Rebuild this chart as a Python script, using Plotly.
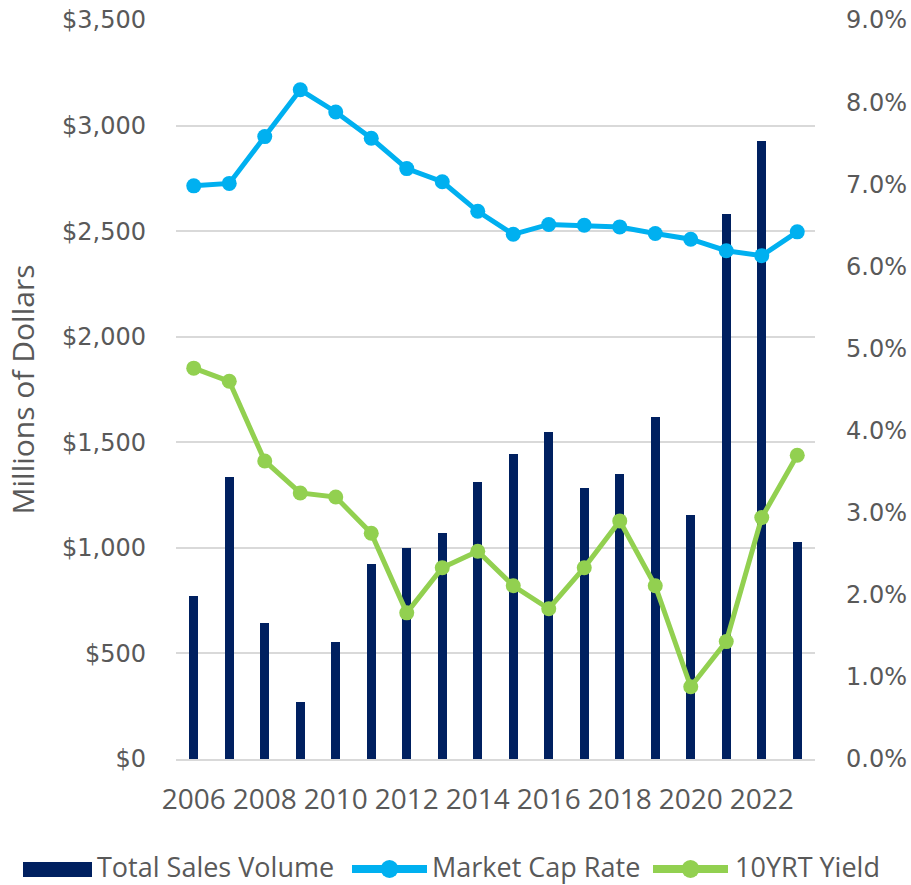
import plotly.graph_objects as go

years = list(range(2006, 2024))
sales_volume = [770, 1335, 645, 270, 556, 925, 1000, 1070, 1310, 1445, 1550, 1285, 1350, 1620, 1157, 2582, 2928, 1030]
cap_rate = [6.98, 7.01, 7.58, 8.15, 7.88, 7.56, 7.19, 7.03, 6.67, 6.39, 6.51, 6.50, 6.48, 6.40, 6.33, 6.19, 6.13, 6.42]
treasury_yield = [4.76, 4.60, 3.63, 3.24, 3.19, 2.75, 1.78, 2.33, 2.53, 2.11, 1.83, 2.33, 2.90, 2.11, 0.88, 1.43, 2.94, 3.70]
series_names = ["Total Sales Volume", "Market Cap Rate", "10YRT Yield"]

NAVY = "#002060"
BLUE = "#00B0F0"
GREEN = "#92D050"
GRAY = "#595959"
TICKFONT = dict(family="DejaVu Sans, Verdana, sans-serif", size=24, color=GRAY)
XFONT = dict(family="Open Sans, sans-serif", size=28, color=GRAY)
LEGFONT = dict(family="Open Sans, sans-serif", size=27, color=GRAY)
TITLEFONT = dict(family="Open Sans, sans-serif", size=30, color=GRAY)

W, H = 911, 885
PL, PR, PT, PB = 176, 815, 20, 759   # plot area in pixels


def px_x(p):
    return (p - PL) / (PR - PL)


def px_y(q):
    return (PB - q) / (PB - PT)


fig = go.Figure()
fig.add_trace(go.Bar(x=years, y=sales_volume, name=series_names[0],
                     marker=dict(color=NAVY, line=dict(width=0)), width=0.24, yaxis="y"))
fig.add_trace(go.Scatter(x=years, y=cap_rate, name=series_names[1], mode="lines+markers",
                         line=dict(color=BLUE, width=5), marker=dict(color=BLUE, size=15),
                         yaxis="y2"))
fig.add_trace(go.Scatter(x=years, y=treasury_yield, name=series_names[2], mode="lines+markers",
                         line=dict(color=GREEN, width=5), marker=dict(color=GREEN, size=15),
                         yaxis="y2"))

# custom legend (wide swatches like the original)
LEG_Y = 866
shapes = [
    dict(type="rect", xref="paper", yref="paper", x0=px_x(23), x1=px_x(92),
         y0=px_y(877), y1=px_y(862), fillcolor=NAVY, line=dict(width=0)),
]
for (x0, x1, col) in [(352, 427, BLUE), (653, 728, GREEN)]:
    shapes.append(dict(type="line", xref="paper", yref="paper", x0=px_x(x0), x1=px_x(x1),
                       y0=px_y(869), y1=px_y(869), line=dict(color=col, width=8)))
    cx = px_x((x0 + x1) / 2)
    shapes.append(dict(type="circle", xref="paper", yref="paper", xsizemode="pixel",
                       ysizemode="pixel", xanchor=cx, yanchor=px_y(869),
                       x0=-9, x1=9, y0=-9, y1=9, fillcolor=col, line=dict(width=0)))
annotations = []
for name, xs in zip(series_names, [95, 430, 733]):
    annotations.append(dict(text=name, xref="paper", yref="paper", x=px_x(xs), y=px_y(LEG_Y),
                            xanchor="left", yanchor="middle", showarrow=False, font=LEGFONT))

fig.update_layout(
    width=W, height=H,
    margin=dict(l=PL, r=W - PR, t=PT, b=H - PB, autoexpand=False),
    paper_bgcolor="white", plot_bgcolor="white",
    showlegend=False,
    shapes=shapes, annotations=annotations,
    xaxis=dict(range=[2005.5, 2023.5], tick0=2006, dtick=2, tickfont=XFONT,
               showgrid=False, showline=True, linecolor="#D9D9D9", linewidth=2,
               ticks="", ticklabelstandoff=14),
    yaxis=dict(range=[0, 3500], dtick=500, tickprefix="$", tickformat=",",
               tickfont=TICKFONT, gridcolor="#D9D9D9", gridwidth=2, zeroline=False,
               ticklabelstandoff=29, ticklabeloverflow="allow",
               title=dict(text="Millions of Dollars", font=TITLEFONT, standoff=18)),
    yaxis2=dict(range=[0, 9], dtick=1, tickformat=".1f", ticksuffix="%", overlaying="y",
                side="right", tickfont=TICKFONT, showgrid=False, zeroline=False,
                ticklabelstandoff=30, ticklabeloverflow="allow"),
    bargap=0,
)

fig.write_html("out.html", config={"displayModeBar": False},
               post_script="document.body.style.margin='0';")
